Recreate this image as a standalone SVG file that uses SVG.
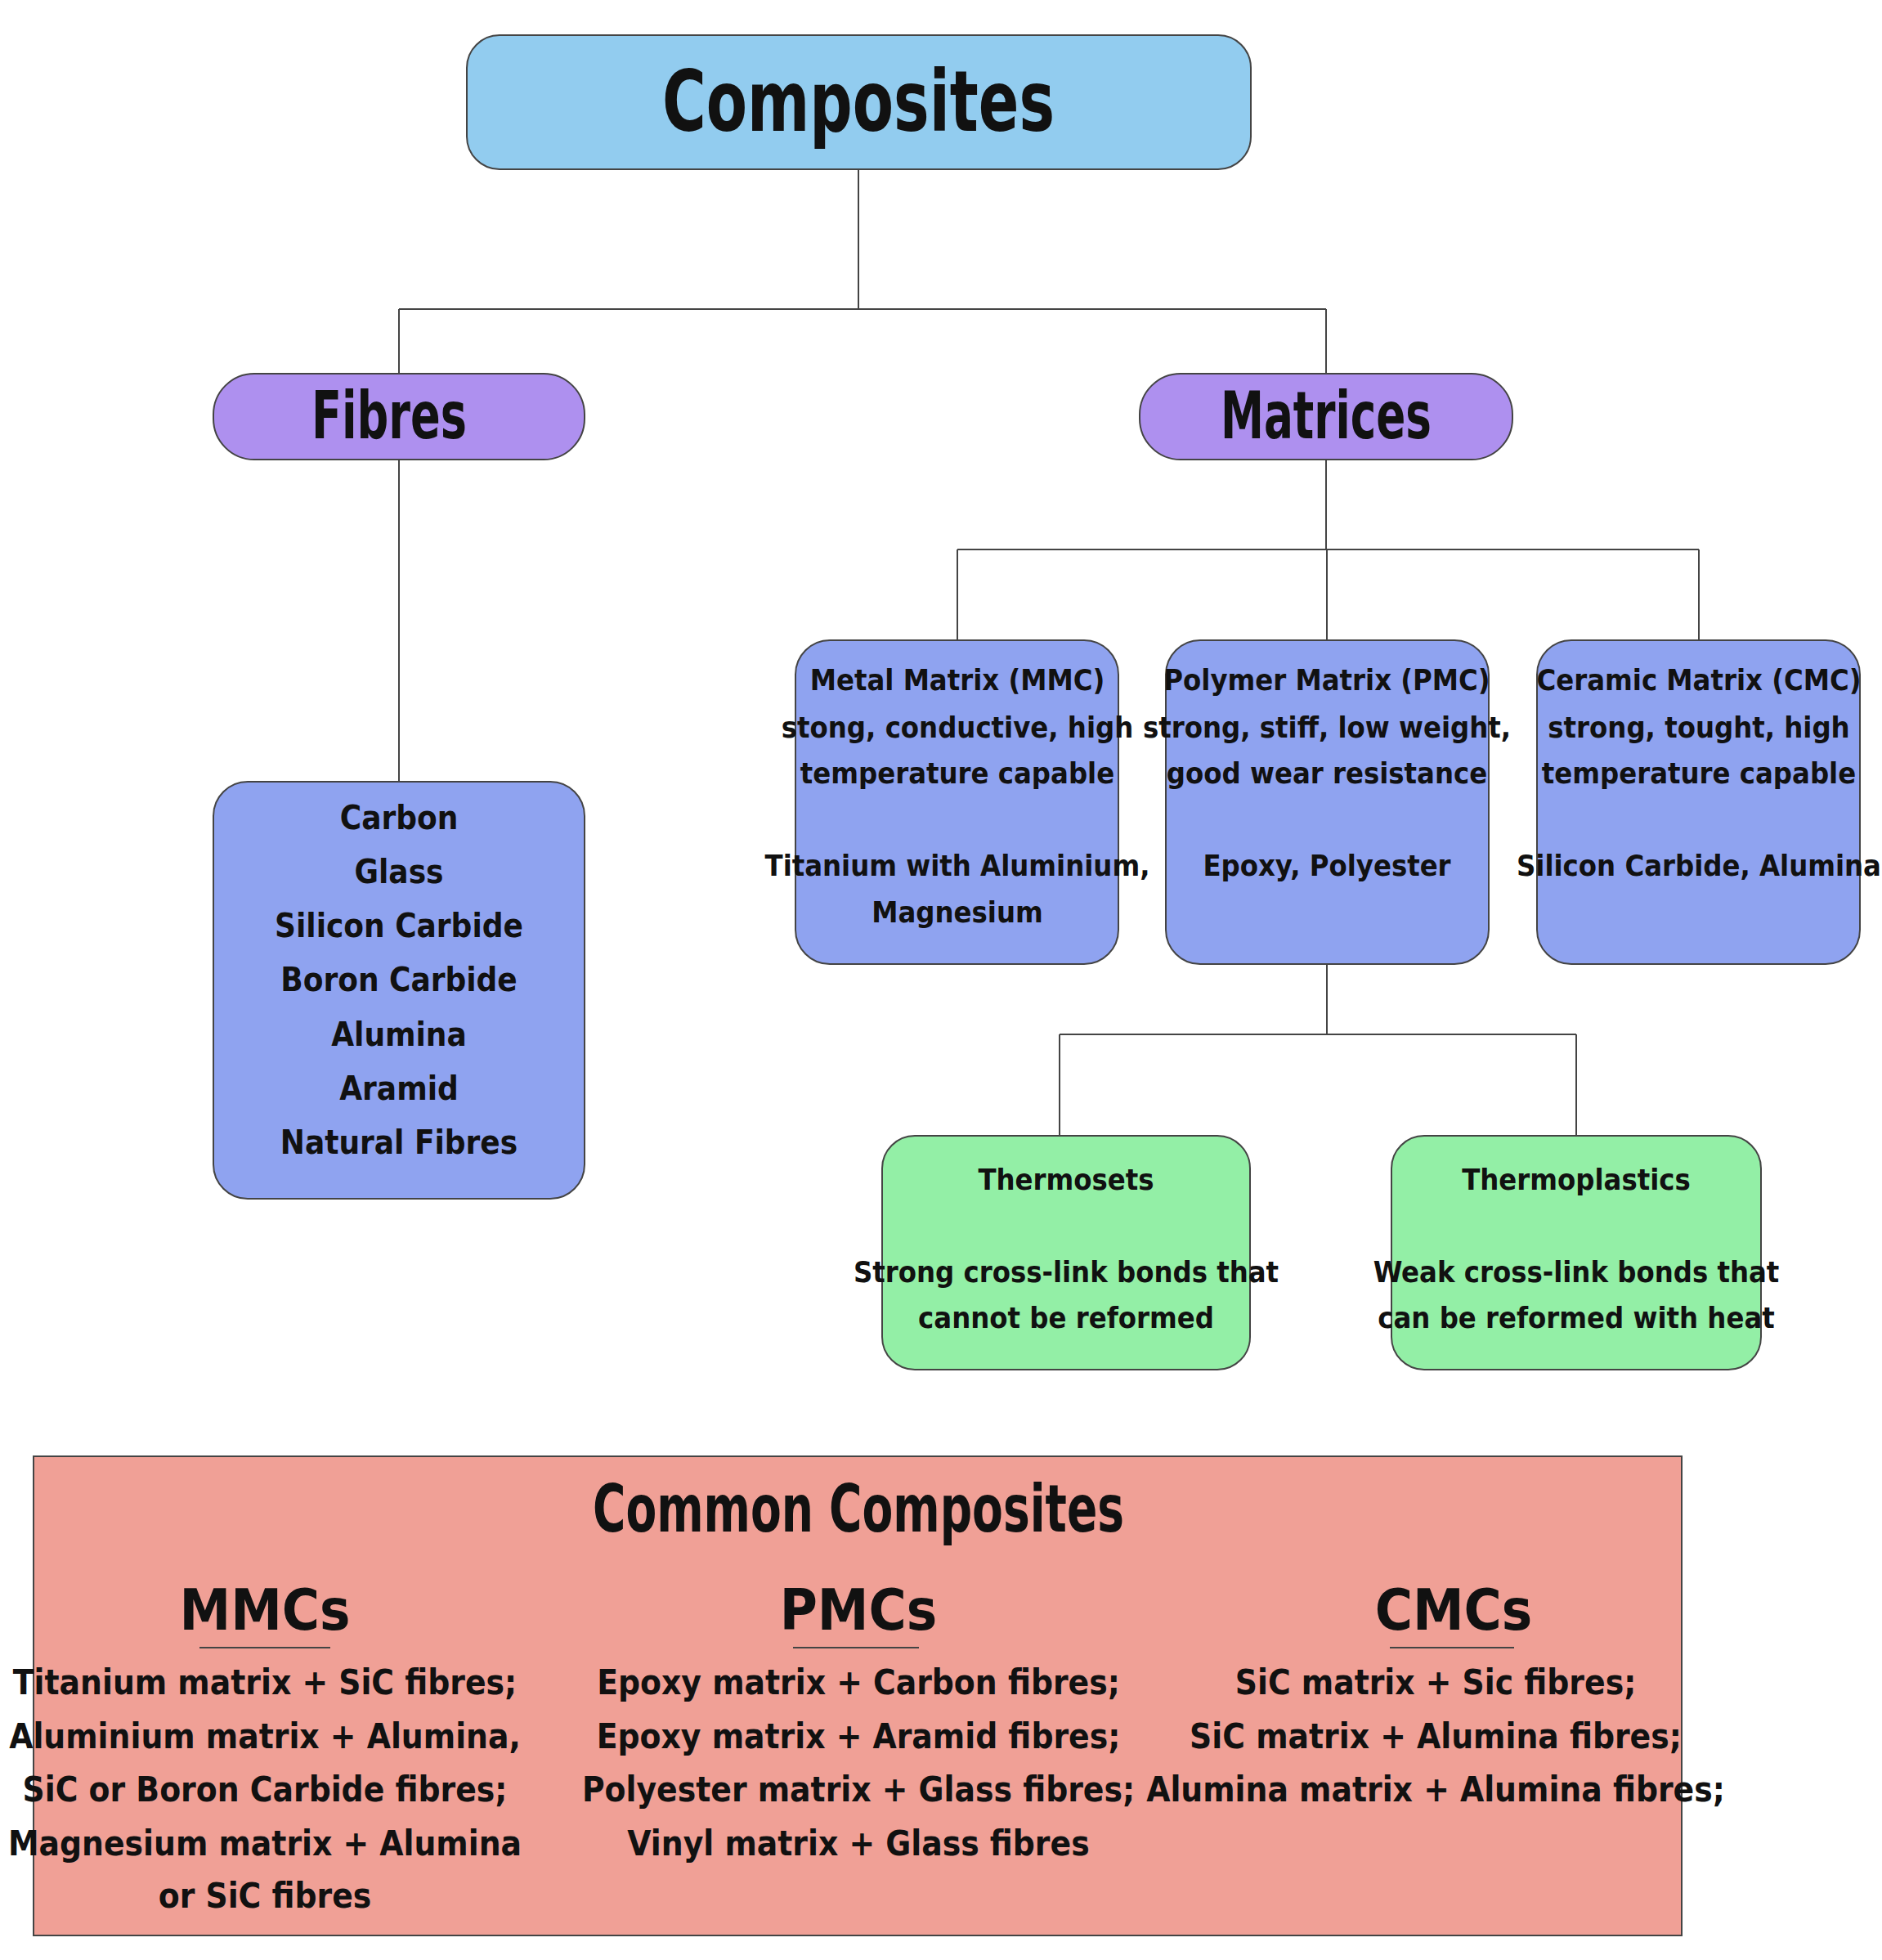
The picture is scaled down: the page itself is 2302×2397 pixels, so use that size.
<svg xmlns="http://www.w3.org/2000/svg" width="2302" height="2397" viewBox="0 0 2302 2397">
<style>
text{font-family:"DejaVu Sans","Liberation Sans",sans-serif;font-stretch:condensed;font-weight:bold;fill:#111;text-anchor:middle}
.b{stroke:#444;stroke-width:2}
.c{fill:none;stroke:#444;stroke-width:2}
.t{font-size:36px}
.l{font-size:40px}
.s{font-size:42px}
</style>
<rect width="2302" height="2397" fill="#fff"/>
<g id="connectors" class="c">
<path d="M1050 207V378M488 378H1622M488 378V457M1622 378V457M488 562V956M1622 562V672M1171 672H2078M1171 672V783M1623 672V783M2078 672V783M1623 1179V1265M1296 1265H1928M1296 1265V1389M1928 1265V1389"/>
</g>
<g id="composites"><rect class="b" x="571" y="43" width="959" height="164" rx="40" fill="#92ccef"/><text x="1050" y="160" font-size="104" textLength="480" lengthAdjust="spacingAndGlyphs">Composites</text></g>
<g id="fibres"><rect class="b" x="261" y="457" width="454" height="105" rx="50" fill="#ae90ef"/><text x="476" y="536" font-size="80" textLength="190" lengthAdjust="spacingAndGlyphs">Fibres</text></g>
<g id="matrices"><rect class="b" x="1394" y="457" width="456" height="105" rx="50" fill="#ae90ef"/><text x="1622" y="536" font-size="80" textLength="258" lengthAdjust="spacingAndGlyphs">Matrices</text></g>
<g id="fibrelist"><rect class="b" x="261" y="956" width="454" height="510" rx="42" fill="#8fa3f0"/>
<text class="l" x="488" y="1014">Carbon</text><text class="l" x="488" y="1080">Glass</text><text class="l" x="488" y="1146">Silicon Carbide</text><text class="l" x="488" y="1212">Boron Carbide</text><text class="l" x="488" y="1279">Alumina</text><text class="l" x="488" y="1345">Aramid</text><text class="l" x="488" y="1411">Natural Fibres</text></g>
<g id="mmc"><rect class="b" x="973" y="783" width="395" height="396" rx="42" fill="#8fa3f0"/>
<text class="t" x="1171" y="844">Metal Matrix (MMC)</text><text class="t" x="1171" y="902">stong, conductive, high</text><text class="t" x="1171" y="958">temperature capable</text><text class="t" x="1171" y="1071">Titanium with Aluminium,</text><text class="t" x="1171" y="1128">Magnesium</text></g>
<g id="pmc"><rect class="b" x="1426" y="783" width="395" height="396" rx="42" fill="#8fa3f0"/>
<text class="t" x="1623" y="844">Polymer Matrix (PMC)</text><text class="t" x="1623" y="902">strong, stiff, low weight,</text><text class="t" x="1623" y="958">good wear resistance</text><text class="t" x="1623" y="1071">Epoxy, Polyester</text></g>
<g id="cmc"><rect class="b" x="1880" y="783" width="395" height="396" rx="42" fill="#8fa3f0"/>
<text class="t" x="2078" y="844">Ceramic Matrix (CMC)</text><text class="t" x="2078" y="902">strong, tought, high</text><text class="t" x="2078" y="958">temperature capable</text><text class="t" x="2078" y="1071">Silicon Carbide, Alumina</text></g>
<g id="thermosets"><rect class="b" x="1079" y="1389" width="450" height="286" rx="40" fill="#93efa6"/>
<text class="t" x="1304" y="1455">Thermosets</text><text class="t" x="1304" y="1568">Strong cross-link bonds that</text><text class="t" x="1304" y="1624">cannot be reformed</text></g>
<g id="thermoplastics"><rect class="b" x="1702" y="1389" width="452" height="286" rx="40" fill="#93efa6"/>
<text class="t" x="1928" y="1455">Thermoplastics</text><text class="t" x="1928" y="1568">Weak cross-link bonds that</text><text class="t" x="1928" y="1624">can be reformed with heat</text></g>
<g id="common"><rect class="b" x="41" y="1781" width="2016" height="586" fill="#f0a096"/>
<text x="1050" y="1873" font-size="80" textLength="650" lengthAdjust="spacingAndGlyphs">Common Composites</text>
<text x="324" y="1993" font-size="70">MMCs</text><text x="1050" y="1993" font-size="70">PMCs</text><text x="1778" y="1993" font-size="70">CMCs</text>
<path class="c" d="M244 2015H404M970 2015H1124M1700 2015H1852"/>
<text class="s" x="324" y="2072">Titanium matrix + SiC fibres;</text><text class="s" x="324" y="2138">Aluminium matrix + Alumina,</text><text class="s" x="324" y="2203">SiC or Boron Carbide fibres;</text><text class="s" x="324" y="2269">Magnesium matrix + Alumina</text><text class="s" x="324" y="2333">or SiC fibres</text>
<text class="s" x="1050" y="2072">Epoxy matrix + Carbon fibres;</text><text class="s" x="1050" y="2138">Epoxy matrix + Aramid fibres;</text><text class="s" x="1050" y="2203">Polyester matrix + Glass fibres;</text><text class="s" x="1050" y="2269">Vinyl matrix + Glass fibres</text>
<text class="s" x="1756" y="2072">SiC matrix + Sic fibres;</text><text class="s" x="1756" y="2138">SiC matrix + Alumina fibres;</text><text class="s" x="1756" y="2203">Alumina matrix + Alumina fibres;</text></g>
</svg>
